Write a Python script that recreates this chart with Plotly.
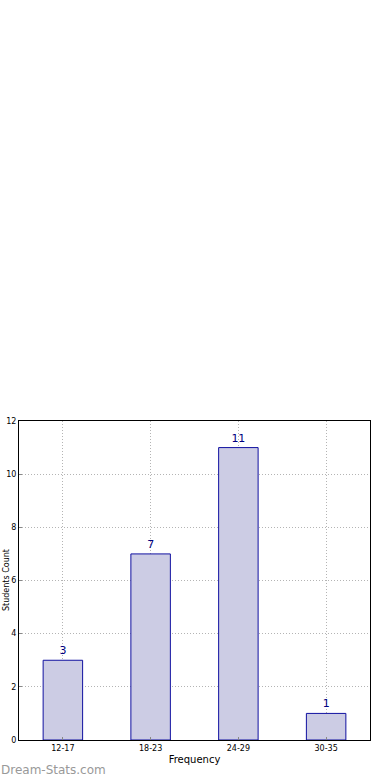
import plotly.graph_objects as go

categories = ["12-17", "18-23", "24-29", "30-35"]
counts = [3, 7, 11, 1]
y_ticks = [0, 2, 4, 6, 8, 10, 12]

fig = go.Figure()
fig.add_trace(go.Bar(
    x=categories, y=counts, width=0.45,
    marker=dict(color="#ccccE4", line=dict(color="#1010a0", width=1)),
    text=[str(c) for c in counts], textposition="outside",
    textfont=dict(color="#000080", size=11, family="DejaVu Sans"),
    cliponaxis=False,
))

fig.update_layout(
    width=390, height=780,
    margin=dict(l=19, r=20, t=421, b=40, autoexpand=False),
    paper_bgcolor="white", plot_bgcolor="white",
    showlegend=False,
    font=dict(family="DejaVu Sans", size=8, color="black"),
)
fig.update_xaxes(
    range=[-0.5, 3.5], showline=True, linecolor="black", linewidth=1, mirror=True,
    showgrid=True, gridcolor="#b4b4b4", griddash="1px,2px", gridwidth=1,
    ticks="inside", ticklen=3, tickcolor="#888", automargin=False,
    title=dict(text="Frequency", font=dict(size=10, family="DejaVu Sans"), standoff=4),
    tickfont=dict(size=8),
)
fig.update_yaxes(
    range=[0, 12], tickvals=y_ticks, showline=True, linecolor="black", linewidth=1, mirror=True,
    showgrid=True, gridcolor="#b4b4b4", griddash="1px,2px", gridwidth=1,
    ticks="inside", ticklen=3, tickcolor="#888", zeroline=False, automargin=False,
    tickfont=dict(size=8),
)
fig.add_annotation(
    text="Students Count", xref="paper", yref="paper", x=-19 / 351, y=0.5,
    xanchor="left", yanchor="middle", textangle=-90, showarrow=False,
    font=dict(size=8, family="DejaVu Sans", color="black"),
)
fig.add_annotation(
    text="Dream-Stats.com", xref="paper", yref="paper", x=-0.058, y=-0.094,
    xanchor="left", yanchor="middle", showarrow=False,
    font=dict(size=12, family="DejaVu Sans", color="#999999"),
)
fig.write_html("out.html")
